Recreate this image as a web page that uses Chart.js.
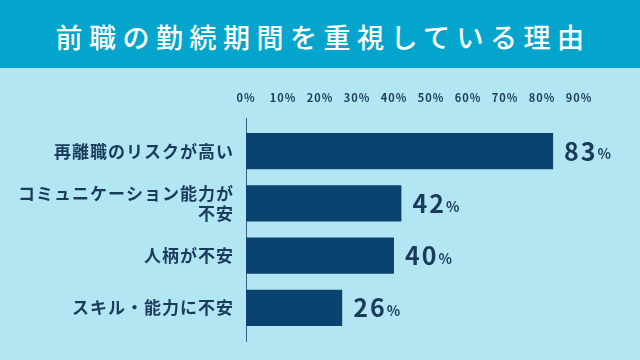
<!DOCTYPE html>
<html lang="ja">
<head>
<meta charset="utf-8">
<script src="https://cdn.jsdelivr.net/npm/chart.js@4.4.1/dist/chart.umd.min.js"></script>
<style>
  html, body { margin: 0; padding: 0; }
  body { width: 640px; height: 360px; background: #b3e6f3; overflow: hidden; font-family: "Noto Sans CJK JP", sans-serif; }
  .header { height: 68px; background: #03a5cc; color: #fff; font-size: 27px; font-weight: 500; letter-spacing: 6.5px; text-align: center; line-height: 73px; padding-left: 6px; box-sizing: border-box; }
  .wrap { position: relative; width: 640px; height: 292px; }
</style>
</head>
<body>
<div class="header">前職の勤続期間を重視している理由</div>
<div class="wrap"><canvas id="chart"></canvas></div>
<script>
// data
const categories = [
  '再離職のリスクが高い',
  ['コミュニケーション能力が', '不安'],
  '人柄が不安',
  'スキル・能力に不安'
];
const values = [83, 42, 40, 26];
const tickValues = [0, 10, 20, 30, 40, 50, 60, 70, 80, 90];

const FONT = '"Noto Sans CJK JP", sans-serif';
const textColor = '#1a3b5c';
const barColor = '#0a436f';

// letter spacing for all canvas text
const spacing = {
  id: 'spacing',
  beforeDraw(chart) {
    chart.ctx.letterSpacing = '1px';
  }
};

// axis line + value labels
const valueLabels = {
  id: 'valueLabels',
  beforeDatasetsDraw(chart) {
    const { ctx, chartArea } = chart;
    const x = Math.round(chartArea.left) + 0.5;
    ctx.save();
    ctx.strokeStyle = '#3b5f7c';
    ctx.lineWidth = 1;
    ctx.beginPath();
    ctx.moveTo(x, chartArea.top - 7);
    ctx.lineTo(x, chartArea.bottom + 8);
    ctx.stroke();
    ctx.restore();
  },
  afterDatasetsDraw(chart) {
    const ctx = chart.ctx;
    const meta = chart.getDatasetMeta(0);
    ctx.save();
    ctx.fillStyle = textColor;
    ctx.textAlign = 'left';
    ctx.textBaseline = 'middle';
    ctx.letterSpacing = '2px';
    meta.data.forEach((bar, i) => {
      const num = String(values[i]);
      const x = bar.x + 11;
      ctx.font = '600 25px ' + FONT;
      ctx.fillText(num, x, bar.y);
      const w = ctx.measureText(num).width;
      ctx.font = '600 14px ' + FONT;
      ctx.fillText('%', x + w, bar.y + 3);
    });
    ctx.restore();
  }
};

const ctx = document.getElementById('chart').getContext('2d');
new Chart(ctx, {
  type: 'bar',
  data: {
    labels: categories,
    datasets: [{
      data: values,
      backgroundColor: barColor,
      barPercentage: 0.69,
      categoryPercentage: 1
    }]
  },
  options: {
    indexAxis: 'y',
    responsive: true,
    maintainAspectRatio: false,
    animation: false,
    layout: { padding: { top: 0, right: 61, bottom: 26, left: 0 } },
    plugins: {
      legend: { display: false },
      tooltip: { enabled: false }
    },
    scales: {
      x: {
        position: 'top',
        min: 0,
        max: 90,
        afterFit(s) { s.height = 57; },
        afterBuildTicks(s) { s.ticks = tickValues.map(v => ({ value: v })); },
        grid: { display: false, drawTicks: false },
        border: { display: false },
        ticks: {
          padding: 21,
          color: textColor,
          font: { family: FONT, size: 11, weight: '600' },
          callback: v => v + '%'
        }
      },
      y: {
        afterFit(s) { s.width = 246; },
        grid: { display: false, drawTicks: false },
        border: { display: false },
        ticks: {
          padding: 12,
          color: textColor,
          font: { family: FONT, size: 17, weight: '600', lineHeight: 1.2 }
        }
      }
    }
  },
  plugins: [spacing, valueLabels]
});
</script>
</body>
</html>
